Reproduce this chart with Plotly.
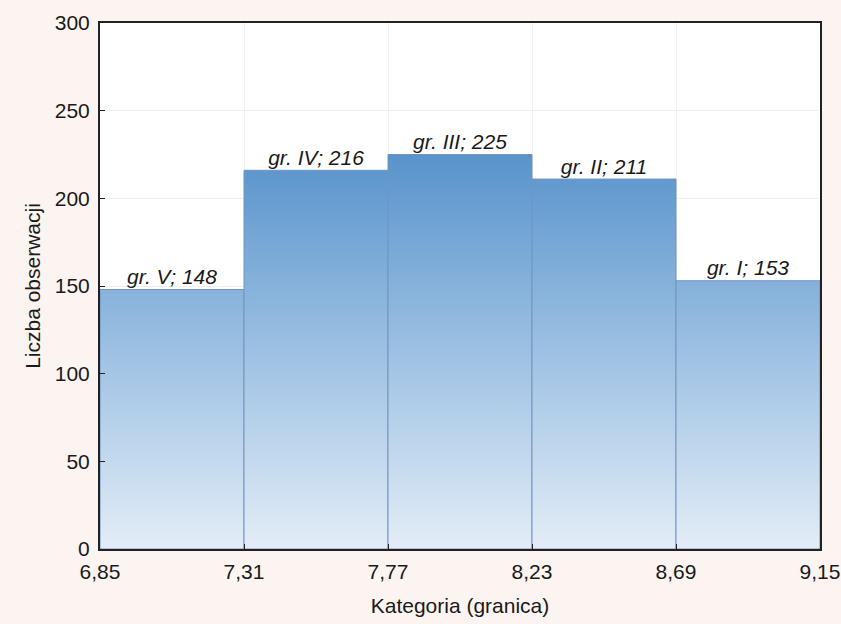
import plotly.graph_objects as go

edges = [6.85, 7.31, 7.77, 8.23, 8.69, 9.15]
edge_labels = ["6,85", "7,31", "7,77", "8,23", "8,69", "9,15"]
groups = ["gr. V", "gr. IV", "gr. III", "gr. II", "gr. I"]
counts = [148, 216, 225, 211, 153]

scale = [[0.0, "#E3EDF7"], [0.45, "#A3C4E4"], [1.0, "#5591CA"]]

fig = go.Figure()
for i, c in enumerate(counts):
    x0, x1 = edges[i], edges[i + 1]
    fig.add_trace(go.Scatter(
        x=[x0, x0, x1, x1, x0], y=[0, c, c, 0, 0],
        mode="lines", fill="toself",
        line=dict(color="#7095C4", width=1),
        fillgradient=dict(type="vertical", colorscale=scale, start=0, stop=230),
        hoverinfo="skip", showlegend=False,
    ))

centers = [(edges[i] + edges[i + 1]) / 2 for i in range(len(counts))]
fig.add_trace(go.Scatter(
    x=centers, y=counts, mode="text",
    text=[f"<i>{g}; {c}</i>" for g, c in zip(groups, counts)],
    textposition="top center",
    textfont=dict(family="Liberation Sans, Arial", size=21, color="#1a1a1a"),
    showlegend=False, hoverinfo="skip",
))

fig.update_layout(
    width=841, height=624,
    margin=dict(l=100, r=21, t=23, b=75),
    paper_bgcolor="#FCF4F1", plot_bgcolor="#FFFFFF",
    font=dict(family="Liberation Sans, Arial", size=21, color="#1a1a1a"),
)
fig.update_xaxes(
    range=[edges[0], edges[-1]], tickvals=edges, ticktext=edge_labels,
    showline=True, linecolor="#222222", linewidth=2, mirror=True,
    ticks="inside", ticklen=5, tickcolor="#222222",
    showgrid=True, gridcolor="#F0F0F0", zeroline=False,
    automargin=False, tickfont=dict(size=21, color="#1a1a1a"),
    ticklabelstandoff=3,
    title=dict(text="Kategoria (granica)", standoff=16, font=dict(size=21)),
)
fig.update_yaxes(
    range=[0, 300], tickvals=[0, 50, 100, 150, 200, 250, 300],
    showline=True, linecolor="#222222", linewidth=2, mirror=True,
    ticks="inside", ticklen=5, tickcolor="#222222",
    showgrid=True, gridcolor="#F0F0F0", zeroline=False,
    automargin=False, tickfont=dict(size=21, color="#1a1a1a"),
    ticklabelstandoff=4,
    title=dict(text="Liczba obserwacji", standoff=8, font=dict(size=21)),
)

fig.write_html(
    "out.html",
    config={"displayModeBar": False},
    post_script="document.body.style.margin='0';document.body.style.background='#FCF4F1';",
)
